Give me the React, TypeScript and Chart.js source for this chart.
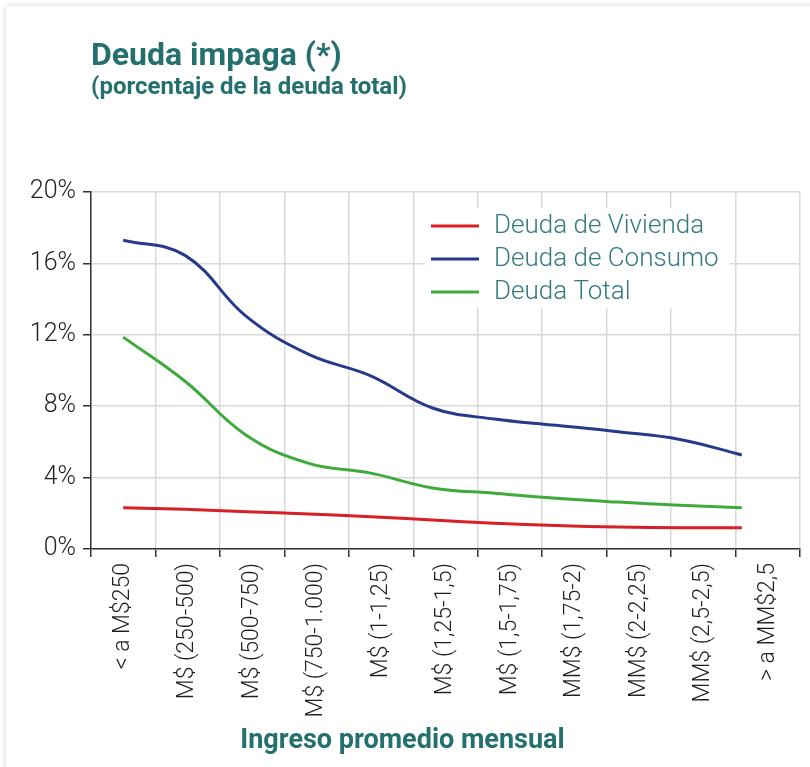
import React, { useEffect, useRef } from "react";
import { Chart, registerables } from "chart.js";

Chart.register(...registerables);

const categories = [
  "< a M$250",
  "M$ (250-500)",
  "M$ (500-750)",
  "M$ (750-1.000)",
  "M$ (1-1,25)",
  "M$ (1,25-1,5)",
  "M$ (1,5-1,75)",
  "MM$ (1,75-2)",
  "MM$ (2-2,25)",
  "MM$ (2,5-2,5)",
  "> a MM$2,5",
];

const seriesNames = ["Deuda de Vivienda", "Deuda de Consumo", "Deuda Total"];
const vivienda = [2.31, 2.22, 2.09, 1.96, 1.81, 1.62, 1.44, 1.31, 1.23, 1.19, 1.19];
const consumo = [17.3, 16.45, 13.0, 10.9, 9.7, 7.9, 7.28, 6.93, 6.57, 6.14, 5.27];
const total = [11.87, 9.4, 6.35, 4.8, 4.25, 3.42, 3.12, 2.84, 2.63, 2.45, 2.31];
const yTicks = [0, 4, 8, 12, 16, 20];

const colors = ["#d71f26", "#263a8c", "#3faa3c"];
const TEAL = "#24706e";

const legendPlugin = {
  id: "boxLegend",
  afterDatasetsDraw(chart: any) {
    const ctx = chart.ctx;
    ctx.save();
    ctx.fillStyle = "#ffffff";
    ctx.fillRect(425, 208, 305, 100);
    ctx.font = "300 26px Roboto";
    ctx.textBaseline = "middle";
    ctx.textAlign = "left";
    chart.data.datasets.forEach((ds: any, i: number) => {
      const y = 226 + i * 33;
      ctx.strokeStyle = ds.borderColor;
      ctx.lineWidth = 3;
      ctx.beginPath();
      ctx.moveTo(431, y);
      ctx.lineTo(479, y);
      ctx.stroke();
      ctx.fillStyle = "#337b7a";
      ctx.fillText(ds.label, 494, y);
    });
    ctx.restore();
  },
};

function App() {
  const ref = useRef<HTMLCanvasElement | null>(null);

  useEffect(() => {
    if (!ref.current) return;
    const series = [vivienda, consumo, total];
    const chart = new Chart(ref.current, {
      type: "line",
      data: {
        labels: categories,
        datasets: series.map((s, i) => ({
          label: seriesNames[i],
          data: s.map((v, j) => ({ x: j, y: v })),
          borderColor: colors[i],
          backgroundColor: colors[i],
          borderWidth: 3,
          pointRadius: 0,
          tension: 0.4,
          fill: false,
          xAxisID: "xd",
        })),
      },
      options: {
        animation: false,
        responsive: false,
        maintainAspectRatio: false,
        layout: { padding: { left: 0, top: 192, right: 10, bottom: 0 } },
        plugins: {
          legend: { display: false },
          tooltip: { enabled: false },
          title: { display: false },
        },
        scales: {
          x: {
            type: "category",
            labels: categories,
            offset: true,
            grid: {
              offset: true,
              color: "#d9d9d9",
              lineWidth: 1.5,
              tickColor: "#333333",
              tickLength: 8,
              drawOnChartArea: true,
            },
            border: { color: "#333333", width: 1.5 },
            ticks: {
              autoSkip: false,
              maxRotation: 90,
              minRotation: 90,
              padding: 6,
              color: "#231f20",
              font: { family: "Roboto", size: 23, weight: "300" },
            },
            afterFit: (scale: any) => {
              scale.height = 218;
            },
          },
          xd: {
            type: "linear",
            display: false,
            min: -0.52,
            max: 10.94,
          },
          y: {
            type: "linear",
            min: 0,
            max: 20,
            afterBuildTicks: (scale: any) => {
              scale.ticks = yTicks.map((v) => ({ value: v }));
            },
            grid: {
              color: "#d9d9d9",
              lineWidth: 1.5,
              tickColor: "#333333",
              tickLength: 8,
            },
            border: { color: "#333333", width: 1.5 },
            ticks: {
              padding: 7,
              color: "#231f20",
              font: { family: "Roboto", size: 25, weight: "300" },
              callback: (v: any) => v + "%",
            },
            afterFit: (scale: any) => {
              scale.width = 91;
            },
          },
        },
      },
      plugins: [legendPlugin],
    } as any);
    return () => chart.destroy();
  }, []);

  return (
    <div
      style={{
        position: "absolute",
        left: 0,
        top: 0,
        width: 810,
        height: 767,
        overflow: "hidden",
        background: "#ffffff",
      }}
    >
      <div
        style={{
          position: "absolute",
          left: 6,
          top: 6,
          width: 840,
          height: 800,
          background: "#ffffff",
          boxShadow: "0 0 6px rgba(0,0,0,0.18)",
        }}
      />
      <canvas
        ref={ref}
        width={810}
        height={767}
        style={{ position: "absolute", left: 0, top: 0, width: 810, height: 767 }}
      />
      <div
        style={{
          position: "absolute",
          left: 91,
          top: 35,
          fontFamily: "Roboto",
          fontWeight: 700,
          fontSize: 32,
          lineHeight: "38px",
          color: TEAL,
          whiteSpace: "nowrap",
        }}
      >
        Deuda impaga (*)
      </div>
      <div
        style={{
          position: "absolute",
          left: 91,
          top: 72,
          fontFamily: "Roboto",
          fontWeight: 700,
          fontSize: 24,
          lineHeight: "28px",
          color: TEAL,
          whiteSpace: "nowrap",
        }}
      >
        (porcentaje de la deuda total)
      </div>
      <div
        style={{
          position: "absolute",
          left: 0,
          width: 805,
          top: 722,
          textAlign: "center",
          fontFamily: "Roboto",
          fontWeight: 700,
          fontSize: 27,
          lineHeight: "34px",
          color: TEAL,
          whiteSpace: "nowrap",
        }}
      >
        Ingreso promedio mensual
      </div>
    </div>
  );
}

export default App;
